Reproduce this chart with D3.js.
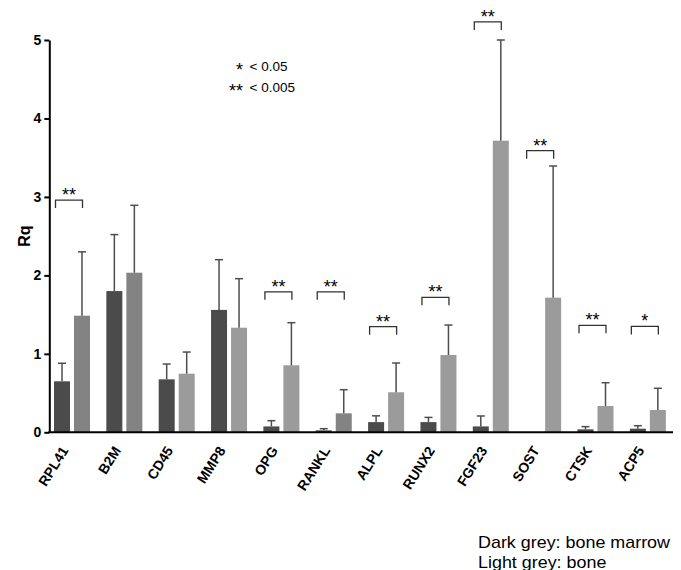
<!DOCTYPE html>
<html>
<head>
<meta charset="utf-8">
<script src="https://cdn.jsdelivr.net/npm/d3@7"></script>
<style>
  body { margin: 0; background: #fff; }
  svg { display: block; font-family: Arial, "Liberation Sans", sans-serif; }
</style>
</head>
<body>
<svg width="681" height="570"></svg>
<script>
// genes on the x axis
const genes = ['RPL41', 'B2M', 'CD45', 'MMP8', 'OPG', 'RANKL', 'ALPL', 'RUNX2', 'FGF23', 'SOST', 'CTSK', 'ACP5'];
const series = ['marrow', 'bone'];

// mean Rq and top of error bar (mean + sd)
const marrowMean = [0.65, 1.80, 0.675, 1.56, 0.075, 0.025, 0.13, 0.13, 0.075, 0, 0.038, 0.046];
const marrowErr  = [0.88, 2.52, 0.87, 2.20, 0.148, 0.046, 0.21, 0.19, 0.208, 0, 0.072, 0.084];
const boneMean   = [1.486, 2.034, 0.747, 1.333, 0.854, 0.242, 0.51, 0.985, 3.717, 1.716, 0.335, 0.284];
const boneErr    = [2.30, 2.893, 1.023, 1.958, 1.397, 0.543, 0.883, 1.367, 5.0, 3.394, 0.632, 0.561];

// significance brackets
const sigGenes = ['RPL41', 'OPG', 'RANKL', 'ALPL', 'RUNX2', 'FGF23', 'SOST', 'CTSK', 'ACP5'];
const sigMarks = ['**', '**', '**', '**', '**', '**', '**', '**', '*'];
const sigLevel = [2.96, 1.79, 1.79, 1.346, 1.72, 5.23, 3.59, 1.364, 1.35];

const yTicks = [0, 1, 2, 3, 4, 5];

// these bone bars came out a bit darker in the original
const darkerBone = ['RPL41', 'B2M', 'RANKL'];

const svg = d3.select('svg');

const y = d3.scaleLinear()
  .domain([0, 5])
  .range([432.3, 40]);

const x = d3.scaleBand()
  .domain(genes)
  .range([49.3, 49.3 + genes.length * 52.35]);

const xs = d3.scaleBand()
  .domain(series)
  .range([4.7, 40.7])
  .paddingInner(0.2);

const center = g => x(g) + (xs('marrow') + xs('bone') + xs.bandwidth()) / 2;

//////////////////////////////////////////////////////////////////
// bars + error bars
const rows = [];
genes.forEach((g, i) => {
  rows.push({ gene: g, s: 'marrow', v: marrowMean[i], e: marrowErr[i] });
  rows.push({ gene: g, s: 'bone', v: boneMean[i], e: boneErr[i] });
});

const fill = d => d.s === 'marrow' ? '#4b4b4b'
  : (darkerBone.includes(d.gene) ? '#838383' : '#9b9b9b');

const bars = svg.append('g').attr('class', 'bars');

bars.selectAll('rect')
  .data(rows.filter(d => d.v > 0))
  .enter()
  .append('rect')
    .attr('x', d => x(d.gene) + xs(d.s))
    .attr('y', d => y(d.v))
    .attr('width', xs.bandwidth())
    .attr('height', d => y(0) - y(d.v))
    .attr('fill', fill);

const errs = bars.selectAll('g.err')
  .data(rows.filter(d => d.e > d.v))
  .enter()
  .append('g')
    .attr('class', 'err')
    .attr('stroke', '#4e4e4e')
    .attr('stroke-width', 1.5);

errs.append('line')
  .attr('x1', d => x(d.gene) + xs(d.s) + xs.bandwidth() / 2)
  .attr('x2', d => x(d.gene) + xs(d.s) + xs.bandwidth() / 2)
  .attr('y1', d => y(d.v))
  .attr('y2', d => y(d.e));

errs.append('line')
  .attr('x1', d => x(d.gene) + xs(d.s) + xs.bandwidth() / 2 - 4)
  .attr('x2', d => x(d.gene) + xs(d.s) + xs.bandwidth() / 2 + 4)
  .attr('y1', d => y(d.e))
  .attr('y2', d => y(d.e));

//////////////////////////////////////////////////////////////////
// axes
const yAxis = svg.append('g')
  .attr('transform', `translate(${x.range()[0]},0)`)
  .call(d3.axisLeft(y).tickValues(yTicks).tickFormat(d3.format('d')).tickSize(5).tickSizeOuter(0).tickPadding(3));

yAxis.select('.domain').attr('stroke-width', 2);
yAxis.selectAll('.tick line').attr('stroke-width', 2);
yAxis.selectAll('.tick text')
  .attr('font-size', 14)
  .attr('font-weight', 'bold')
  .attr('fill', '#000')
  .attr('font-family', 'Arial, "Liberation Sans", sans-serif');

svg.append('line')
  .attr('x1', x.range()[0] - 1)
  .attr('x2', x.range()[1] - 4.5)
  .attr('y1', y(0))
  .attr('y2', y(0))
  .attr('stroke', '#000')
  .attr('stroke-width', 2);

svg.append('g')
  .selectAll('text')
  .data(genes)
  .enter()
  .append('text')
    .attr('transform', g => `translate(${center(g) - 3},${y(0) + 18}) rotate(-58)`)
    .attr('text-anchor', 'end')
    .attr('font-size', 14)
    .attr('font-weight', 'bold')
    .text(g => g);

svg.append('text')
  .attr('transform', `translate(30,${y(2.5)}) rotate(-90)`)
  .attr('text-anchor', 'middle')
  .attr('font-size', 16)
  .attr('font-weight', 'bold')
  .text('Rq');

//////////////////////////////////////////////////////////////////
// significance brackets
const sig = svg.append('g')
  .selectAll('g')
  .data(sigGenes.map((g, i) => ({ gene: g, mark: sigMarks[i], lvl: sigLevel[i] })))
  .enter()
  .append('g');

sig.append('path')
  .attr('d', d => {
    const c = center(d.gene) - 3, t = y(d.lvl);
    return `M${c - 13.5},${t + 8}V${t}H${c + 13.5}V${t + 8}`;
  })
  .attr('fill', 'none')
  .attr('stroke', '#333')
  .attr('stroke-width', 1.3);

sig.append('text')
  .attr('x', d => center(d.gene) - 3)
  .attr('y', d => y(d.lvl) + 1)
  .attr('text-anchor', 'middle')
  .attr('font-size', 18)
  .text(d => d.mark);

//////////////////////////////////////////////////////////////////
// key for p values
const key = svg.append('g');
[['*', '< 0.05'], ['**', '< 0.005']].forEach(([m, t], i) => {
  key.append('text')
    .attr('x', 243).attr('y', 76 + i * 21)
    .attr('text-anchor', 'end')
    .attr('font-size', 18)
    .text(m);
  key.append('text')
    .attr('x', 249.5).attr('y', 70.5 + i * 21)
    .attr('font-size', 13.5)
    .text(t);
});

// series note at the bottom (a touch wider than plain Arial in the original)
svg.append('text')
  .attr('transform', 'translate(478,548) scale(1.12,1)')
  .attr('font-size', 16)
  .selectAll('tspan')
  .data(['Dark grey: bone marrow', 'Light grey: bone'])
  .enter()
  .append('tspan')
    .attr('x', 0)
    .attr('dy', (d, i) => i ? 19.7 : 0)
    .text(d => d);
</script>
</body>
</html>
